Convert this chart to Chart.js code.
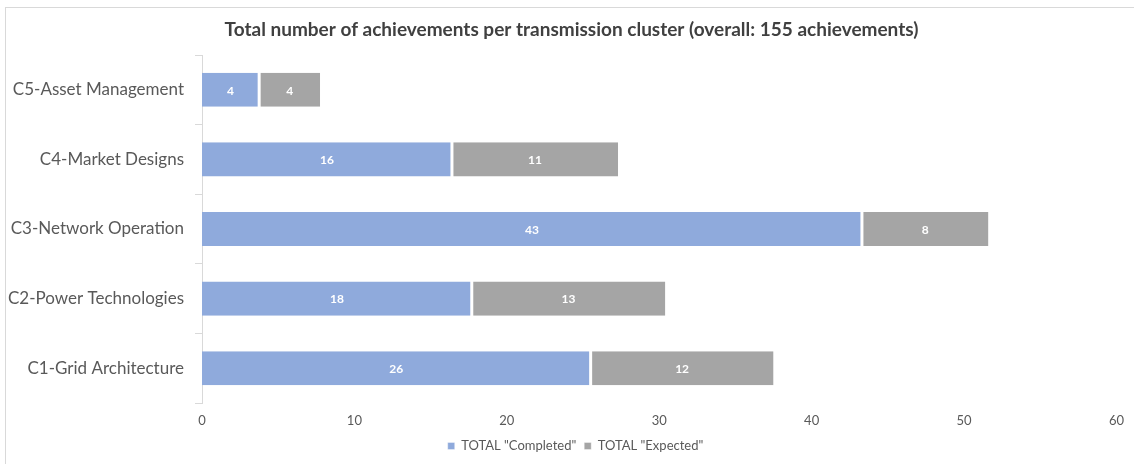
<!DOCTYPE html>
<html>
<head>
<meta charset="utf-8">
<script src="https://cdn.jsdelivr.net/npm/chart.js@4/dist/chart.umd.min.js"></script>
<style>
  html, body { margin: 0; padding: 0; background: #fff; }
  #wrap { position: absolute; left: 0; top: 0; width: 1134px; height: 464px; }
  #frame { position: absolute; left: 5px; top: 7px; width: 1200px; height: 500px; border-left: 1px solid #d9d9d9; border-top: 1px solid #d9d9d9; }
</style>
</head>
<body>
<div id="wrap">
  <div id="frame"></div>
  <canvas id="chart" width="1134" height="464"></canvas>
</div>
<script>
// categories and values
const clusters = ['C5-Asset Management', 'C4-Market Designs', 'C3-Network Operation', 'C2-Power Technologies', 'C1-Grid Architecture'];
const completed = [3.75, 16.4, 43.3, 17.7, 25.5];
const expected = [4.0, 10.9, 8.3, 12.7, 12.0];
const xTicks = [0, 10, 20, 30, 40, 50, 60];

// white numbers in the middle of each bar piece
const barLabels = {
  id: 'barLabels',
  afterDatasetsDraw(chart) {
    const ctx = chart.ctx;
    ctx.save();
    ctx.fillStyle = '#ffffff';
    ctx.font = 'bold 12px Lato';
    ctx.textAlign = 'center';
    ctx.textBaseline = 'middle';
    chart.data.datasets.forEach((ds, i) => {
      chart.getDatasetMeta(i).data.forEach((bar, j) => {
        const p = bar.getProps(['x', 'y', 'base'], true);
        ctx.fillText(Math.round(ds.data[j]), (p.x + p.base) / 2, p.y + 1);
      });
    });
    ctx.restore();
  }
};

// nudge title and legend a bit right, like in the original
const nudge = {
  id: 'nudge',
  afterLayout(chart) {
    chart.titleBlock.left += 12;
    chart.titleBlock.right += 12;
    chart.legend.left += 16;
    chart.legend.right += 16;
  }
};

new Chart(document.getElementById('chart'), {
  type: 'bar',
  data: {
    labels: clusters,
    datasets: [{
      label: 'TOTAL "Completed"',
      data: completed,
      backgroundColor: '#8faadc',
      borderColor: '#ffffff',
      borderWidth: { right: 1.5, left: 0, top: 0, bottom: 0 },
      borderSkipped: false,
      categoryPercentage: 1,
      barPercentage: 0.49
    }, {
      label: 'TOTAL "Expected"',
      data: expected,
      backgroundColor: '#a5a5a5',
      borderColor: '#ffffff',
      borderWidth: { left: 1.5, right: 0, top: 0, bottom: 0 },
      borderSkipped: false,
      categoryPercentage: 1,
      barPercentage: 0.49
    }]
  },
  options: {
    indexAxis: 'y',
    responsive: false,
    animation: false,
    layout: { padding: { left: 0, right: 15, top: 0, bottom: 1.5 } },
    scales: {
      x: {
        stacked: true,
        min: 0,
        max: 60,
        afterBuildTicks(scale) { scale.ticks = xTicks.map(v => ({ value: v })); },
        afterFit(scale) { scale.height = 28.5; },
        grid: { display: false, drawTicks: false, tickLength: 0 },
        border: { display: false },
        ticks: { color: '#595959', font: { family: 'Lato', size: 13 }, padding: 10 }
      },
      y: {
        stacked: true,
        afterFit(scale) { scale.width = 202; },
        grid: { display: true, drawOnChartArea: false, offset: true, color: '#d9d9d9', tickLength: 7 },
        border: { display: true, color: '#d9d9d9' },
        ticks: { color: '#595959', font: { family: 'Lato', size: 17 }, padding: 11 }
      }
    },
    plugins: {
      title: {
        display: true,
        text: 'Total number of achievements per transmission cluster (overall: 155 achievements)',
        color: '#404040',
        font: { family: 'Lato', size: 19, weight: 'bold' },
        padding: { top: 18.6, bottom: 13.6 }
      },
      legend: {
        position: 'bottom',
        labels: {
          color: '#595959',
          font: { family: 'Lato', size: 13 },
          boxWidth: 7,
          boxHeight: 7,
          padding: 8
        }
      },
      tooltip: { enabled: false }
    }
  },
  plugins: [barLabels, nudge]
});
</script>
</body>
</html>
